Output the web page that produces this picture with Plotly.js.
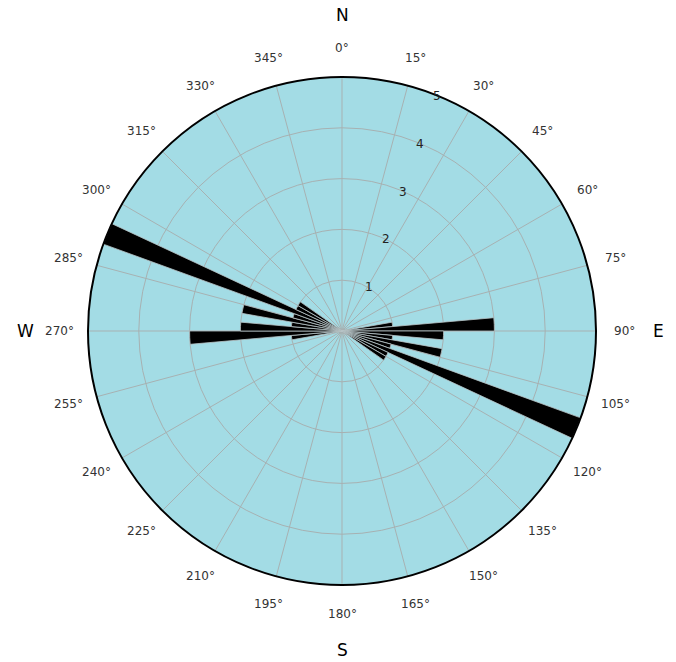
<!DOCTYPE html>
<html>
<head>
<meta charset="utf-8">
<script src="https://cdn.plot.ly/plotly-3.0.1.min.js"></script>
<style>
  html, body { margin: 0; padding: 0; background: #ffffff; }
  #rose { width: 676px; height: 662px; }
</style>
</head>
<body>
<div id="rose"></div>
<script>
// Orientation rose: 5-degree bins, bidirectional counts
const binCenters = [82.5, 87.5, 92.5, 97.5, 102.5, 107.5, 112.5, 117.5, 122.5,
                    262.5, 267.5, 272.5, 277.5, 282.5, 287.5, 292.5, 297.5, 302.5];
const binCounts  = [1, 3, 2, 1, 2, 1, 5, 1, 1,
                    1, 3, 2, 1, 2, 1, 5, 1, 1];
const binWidth = 5;

const angleTicks = [0, 15, 30, 45, 60, 75, 90, 105, 120, 135, 150, 165,
                    180, 195, 210, 225, 240, 255, 270, 285, 300, 315, 330, 345];
const angleLabels = angleTicks.map(a => a + '°');
const radialTicks = [1, 2, 3, 4, 5];

const compassLabels = ['N', 'E', 'S', 'W'];
const compassBearings = [0, 90, 180, 270];

const trace = {
  type: 'barpolar',
  theta: binCenters,
  r: binCounts,
  width: binCenters.map(() => binWidth),
  marker: { color: '#000000', line: { color: '#b8c4c6', width: 0.8 } },
  hoverinfo: 'theta+r'
};

const gridCol = '#a7b1b2';
const radialAngle = 70.5;

// Text ring helper: paper coordinates of a point at a bearing (clockwise from north)
// and a distance given as a fraction of the plot-area size, around the circle centre.
function ringPos(bearing, dist) {
  const a = bearing * Math.PI / 180;
  return { x: 0.5 + dist * Math.sin(a), y: 0.5 + dist * Math.cos(a) };
}

// degree labels centred on a ring just outside the rim
const degreeAnnotations = angleTicks.map((b, i) => {
  const p = ringPos(b, 0.557);
  return {
    text: angleLabels[i], xref: 'paper', yref: 'paper', x: p.x, y: p.y,
    xanchor: 'center', yanchor: 'middle', showarrow: false,
    font: { family: '"DejaVu Sans", sans-serif', size: 12, color: '#333333' }
  };
});

// compass letters further out
const compassAnnotations = compassLabels.map((t, i) => {
  const p = ringPos(compassBearings[i], i === 2 ? 0.627 : 0.623);
  return {
    text: t, xref: 'paper', yref: 'paper', x: p.x, y: p.y,
    xanchor: 'center', yanchor: 'middle', showarrow: false,
    font: { family: '"DejaVu Sans", sans-serif', size: 17, color: '#000000' }
  };
});

const layout = {
  width: 676,
  height: 662,
  margin: { l: 88, r: 80, t: 77, b: 77 },
  paper_bgcolor: '#ffffff',
  showlegend: false,
  font: { family: '"DejaVu Sans", sans-serif', size: 12, color: '#333333' },
  polar: {
    domain: { x: [0, 1], y: [0, 1] },
    bgcolor: '#a3dce5',
    angularaxis: {
      rotation: 90,
      direction: 'clockwise',
      tickmode: 'array',
      tickvals: angleTicks,
      ticktext: angleLabels,
      showticklabels: false,
      ticks: '',
      showline: true,
      linecolor: '#000000',
      linewidth: 2,
      showgrid: true,
      gridcolor: gridCol,
      gridwidth: 1
    },
    radialaxis: {
      range: [0, 5],
      tickmode: 'array',
      tickvals: radialTicks,
      ticktext: radialTicks.map(String),
      angle: radialAngle,
      tickangle: radialAngle,
      showline: false,
      ticks: '',
      showgrid: true,
      gridcolor: gridCol,
      gridwidth: 1,
      tickfont: { size: 12, color: '#222222' }
    }
  },
  annotations: degreeAnnotations.concat(compassAnnotations)
};

Plotly.newPlot('rose', [trace], layout, { displayModeBar: false, staticPlot: true });
</script>
</body>
</html>
